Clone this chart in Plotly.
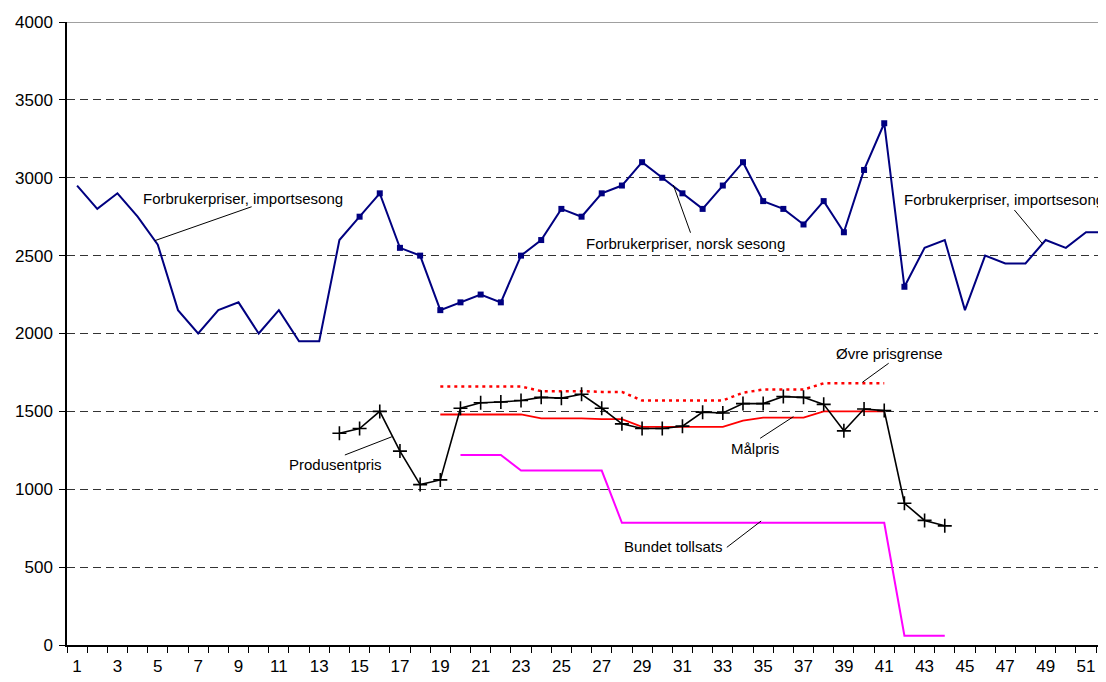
import plotly.graph_objects as go

# ---------------- data ----------------
weeks = list(range(1, 53))
x_tick_labels = [str(w) for w in range(1, 52, 2)]

# Forbrukerpriser (consumer prices), all weeks
consumer_price = [2950, 2800, 2900, 2750, 2570, 2150, 2000, 2150, 2200, 2000,
                  2150, 1950, 1950, 2600, 2750, 2900, 2550, 2500, 2150, 2200,
                  2250, 2200, 2500, 2600, 2800, 2750, 2900, 2950, 3100, 3000,
                  2900, 2800, 2950, 3100, 2850, 2800, 2700, 2850, 2650, 3050,
                  3350, 2300, 2550, 2600, 2150, 2500, 2450, 2450, 2600, 2550,
                  2650, 2650]
norsk_season_weeks = list(range(15, 43))   # weeks with square markers

# Produsentpris, weeks 14-44
producer_weeks = list(range(14, 45))
producer_price = [1360, 1390, 1500, 1245, 1030, 1060, 1520, 1555, 1560, 1570,
                  1590, 1585, 1610, 1520, 1420, 1390, 1390, 1405, 1495, 1490,
                  1550, 1550, 1595, 1590, 1545, 1375, 1515, 1505, 910, 800, 765]

# Målpris and Øvre prisgrense, weeks 19-41
target_weeks = list(range(19, 42))
target_price = [1480, 1480, 1480, 1480, 1480, 1455, 1455, 1455, 1450, 1450,
                1400, 1400, 1400, 1400, 1400, 1440, 1460, 1460, 1460, 1500,
                1500, 1500, 1500]
upper_limit = [1660, 1660, 1660, 1660, 1660, 1630, 1630, 1630, 1625, 1625,
               1570, 1570, 1570, 1570, 1570, 1620, 1640, 1640, 1640, 1680,
               1680, 1680, 1680]

# Bundet tollsats, weeks 20-44
tariff_weeks = list(range(20, 45))
bound_tariff = [1220, 1220, 1220, 1120, 1120, 1120, 1120, 1120,
                785, 785, 785, 785, 785, 785, 785, 785, 785, 785, 785, 785, 785, 785,
                60, 60, 60]

# labels: (text, text x, text y, leader start x, start y, leader end x, end y)
labels = [
    ("Forbrukerpriser, importsesong", 9.2, 2865, 9.65, 2814, 4.85, 2596),
    ("Forbrukerpriser, norsk sesong", 31.15, 2580, 31.4, 2647, 30.55, 2953),
    ("Forbrukerpriser, importsesong", 46.95, 2862, 47.45, 2793, 48.85, 2575),
    ("Produsentpris", 13.8, 1156, 14.27, 1220, 16.6, 1337),
    ("Øvre prisgrense", 41.25, 1873, 41.22, 1809, 39.92, 1687),
    ("Målpris", 34.6, 1263, 34.85, 1327, 36.5, 1466),
    ("Bundet tollsats", 30.55, 631, 33.2, 627, 34.9, 796),
]

FONT = "Liberation Sans, Arial, sans-serif"

fig = go.Figure()

# consumer price line
fig.add_trace(go.Scatter(x=weeks, y=consumer_price, mode="lines",
                         line=dict(color="#000080", width=2), showlegend=False))
# markers for Norwegian season
fig.add_trace(go.Scatter(x=norsk_season_weeks,
                         y=[consumer_price[w - 1] for w in norsk_season_weeks],
                         mode="markers",
                         marker=dict(symbol="square", size=6, color="#000080"),
                         showlegend=False))
# upper price limit
fig.add_trace(go.Scatter(x=target_weeks, y=upper_limit, mode="lines",
                         line=dict(color="#FF0000", width=2.5, dash="3px,4px"),
                         showlegend=False))
# target price
fig.add_trace(go.Scatter(x=target_weeks, y=target_price, mode="lines",
                         line=dict(color="#FF0000", width=1.8), showlegend=False))
# bound tariff
fig.add_trace(go.Scatter(x=tariff_weeks, y=bound_tariff, mode="lines",
                         line=dict(color="#FF00FF", width=2), showlegend=False))
# producer price
fig.add_trace(go.Scatter(x=producer_weeks, y=producer_price, mode="lines+markers",
                         line=dict(color="#000000", width=1.6),
                         marker=dict(symbol="cross-thin", size=10,
                                     line=dict(color="#000000", width=1.6)),
                         showlegend=False))

shapes = []
annotations = []
for text, tx, ty, x0, y0, x1, y1 in labels:
    annotations.append(dict(x=tx, y=ty, xref="x", yref="y", text=text,
                            showarrow=False, font=dict(family=FONT, size=15, color="#000000")))
    shapes.append(dict(type="line", xref="x", yref="y", x0=x0, y0=y0, x1=x1, y1=y1,
                       line=dict(color="#000000", width=1)))

# solid top border of plot area
shapes.append(dict(type="line", xref="paper", yref="y", x0=0, x1=1, y0=4000, y1=4000,
                   line=dict(color="#808080", width=1.5)))

# the page body adds an 8px offset, so margins compensate for it
fig.update_layout(
    width=1106, height=682,
    margin=dict(l=59, r=8, t=14, b=45, autoexpand=False),
    paper_bgcolor="white", plot_bgcolor="white",
    font=dict(family=FONT, size=17, color="#000000"),
    shapes=shapes, annotations=annotations,
    showlegend=False,
)
fig.update_xaxes(
    range=[0.5, 51.99], automargin=False,
    tickmode="array", tickvals=list(range(1, 52, 2)), ticktext=x_tick_labels,
    ticks="", showgrid=False, zeroline=False,
    showline=True, linecolor="#000000", linewidth=1.5,
    tickfont=dict(size=17), ticklabelstandoff=5,
    minor=dict(tickmode="array", tickvals=[w + 0.5 for w in range(0, 53)],
               ticks="outside", ticklen=6, tickcolor="#000000", tickwidth=1, showgrid=False),
)
fig.update_yaxes(
    range=[0, 4000], automargin=False, tickmode="array", tickvals=list(range(0, 4001, 500)),
    ticks="outside", ticklen=6, tickcolor="#000000",
    showgrid=True, gridcolor="#333333", gridwidth=1, griddash="8px,5px",
    zeroline=False, showline=True, linecolor="#000000", linewidth=1.5,
    tickfont=dict(size=17), ticklabelstandoff=3,
)

fig.write_html("out.html")
